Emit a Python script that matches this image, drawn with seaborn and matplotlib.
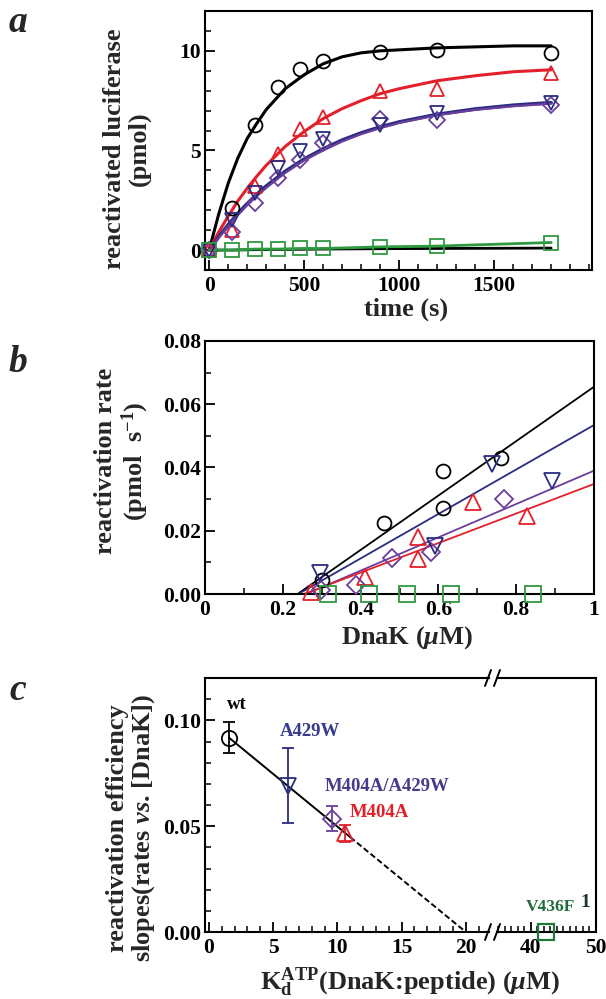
import numpy as np
import pandas as pd
import matplotlib
matplotlib.use("Agg")
import matplotlib.pyplot as plt
import seaborn as sns
from matplotlib.ticker import MultipleLocator, FixedLocator
from matplotlib.lines import Line2D

# ---------------- data: panel a ----------------
time_s = [0, 120, 240, 360, 480, 600, 900, 1200, 1800]
wt_a = [0.0, 2.1, 6.3, 8.2, 9.1, 9.5, 9.95, 10.05, 9.9]
m404a_a = [0.0, 1.0, 3.2, 4.8, 6.1, 6.7, 8.0, 8.1, 8.9]
a429w_a = [0.0, 1.5, 2.85, 4.1, 4.95, 5.6, 6.3, 6.9, 7.4]
dbl_a = [0.0, 0.9, 2.35, 3.6, 4.5, 5.35, 6.6, 6.55, 7.3]
v436f_a = [0.0, 0.0, 0.05, 0.05, 0.08, 0.08, 0.16, 0.2, 0.38]
control_a = [0.0, 0.0, 0.02, 0.03, 0.04, 0.05, 0.07, 0.08, 0.1]

curve_t = [0, 50, 100, 150, 200, 250, 300, 400, 500, 600, 700, 800, 900, 1000, 1200, 1400, 1600, 1800]
wt_fit = [0, 1.8, 3.35, 4.6, 5.6, 6.35, 7.05, 8.1, 8.8, 9.35, 9.7, 9.9, 10.0, 10.05, 10.15, 10.2, 10.25, 10.25]
m404a_fit = [0, 0.9, 1.7, 2.45, 3.1, 3.7, 4.25, 5.2, 5.95, 6.6, 7.1, 7.5, 7.85, 8.1, 8.5, 8.75, 8.95, 9.05]
a429w_fit = [0, 0.66, 1.27, 1.82, 2.33, 2.79, 3.21, 3.95, 4.57, 5.08, 5.52, 5.88, 6.18, 6.43, 6.81, 7.08, 7.27, 7.40]
dbl_fit = [0, 0.62, 1.2, 1.75, 2.25, 2.7, 3.12, 3.87, 4.5, 5.0, 5.45, 5.82, 6.12, 6.38, 6.77, 7.04, 7.22, 7.35]

# ---------------- data: panel b ----------------
wt_b_x = [0.30, 0.46, 0.611, 0.611, 0.76]
wt_b_y = [0.0044, 0.0224, 0.039, 0.0271, 0.0429]
a429w_b_x = [0.295, 0.592, 0.738, 0.891]
a429w_b_y = [0.0067, 0.0152, 0.0411, 0.0358]
dbl_b_x = [0.299, 0.389, 0.48, 0.58, 0.768]
dbl_b_y = [0.0013, 0.0029, 0.0113, 0.0134, 0.030]
m404a_b_x = [0.273, 0.411, 0.547, 0.547, 0.689, 0.829]
m404a_b_y = [0.0005, 0.0055, 0.0181, 0.0111, 0.0292, 0.0247]
v436f_b_x = [0.316, 0.421, 0.52, 0.632, 0.842]
v436f_b_y = [0.0, 0.0, 0.0, 0.0, 0.0]
# linear fits: x-intercept and slope
b_fit_names = ["wt", "A429W", "M404A/A429W", "M404A"]
b_fit_x0 = [0.238, 0.240, 0.260, 0.255]
b_fit_slope = [0.0860, 0.0703, 0.0527, 0.0467]

# ---------------- data: panel c ----------------
c_names = ["wt", "A429W", "M404A/A429W", "M404A"]
c_kd = [1.56, 6.13, 9.56, 10.6]
c_eff = [0.0918, 0.0692, 0.0536, 0.0466]
c_err = [0.0074, 0.0175, 0.0061, 0.0041]
v436f_kd = [42.3]
v436f_eff = [0.0]
c_fit_x0 = 20.0
c_fit_slope = -0.00498
c_solid_end = 11.0

# ---------------- style ----------------
sns.set_theme(style="ticks")
plt.rcParams.update({
    "font.family": ["Liberation Serif", "DejaVu Serif"],
    "font.weight": "bold",
    "axes.labelweight": "bold",
    "mathtext.fontset": "custom",
    "mathtext.rm": "Liberation Serif:bold",
    "mathtext.it": "Liberation Serif:italic:bold",
    "mathtext.bf": "Liberation Serif:bold",
    "xtick.direction": "in",
    "ytick.direction": "in",
    "xtick.major.size": 7, "ytick.major.size": 7,
    "xtick.minor.size": 4, "ytick.minor.size": 4,
    "xtick.major.width": 1.3, "ytick.major.width": 1.3,
    "xtick.minor.width": 1.1, "ytick.minor.width": 1.1,
    "xtick.major.pad": 4, "ytick.major.pad": 3,
    "xtick.color": "black", "ytick.color": "black",
    "axes.edgecolor": "black", "axes.linewidth": 1.5,
    "xtick.labelsize": 15.5, "ytick.labelsize": 15.5,
    "axes.labelsize": 19,
})

BLACK = "#000000"
RED = "#e3202a"
NAVY = "#2a2c80"
PURPLE = "#6a3f9c"
GREEN = "#2e9a40"
GREEN_T = "#1f6b3a"

W, H = 606, 999
fig = plt.figure(figsize=(W / 100, H / 100), dpi=100)


def box(l, t, r, b):
    return [l / W, 1 - b / H, (r - l) / W, (b - t) / H]


def markers(ax, x, y, m, c, ms=10, mew=1.3, z=3):
    sns.lineplot(x=x, y=y, ax=ax, estimator=None, sort=False, marker=m,
                 linestyle="", markersize=ms, markerfacecolor="none",
                 markeredgecolor=c, markeredgewidth=mew, color=c, zorder=z,
                 clip_on=False)


def curve(ax, x, y, c, lw=2.2, z=2, ls="-"):
    sns.lineplot(x=x, y=y, ax=ax, estimator=None, sort=False, color=c,
                 linewidth=lw, zorder=z, linestyle=ls)


# ================= panel a =================
axa = fig.add_axes(box(205, 11, 592, 270))
curve(axa, time_s, control_a, BLACK, lw=2.0, z=1)
curve(axa, curve_t, wt_fit, BLACK)
curve(axa, curve_t, m404a_fit, RED)
curve(axa, curve_t, a429w_fit, NAVY, lw=2.6)
curve(axa, curve_t, dbl_fit, PURPLE, lw=1.6)
curve(axa, time_s, v436f_a, GREEN, lw=2.0)
markers(axa, time_s, wt_a, "o", BLACK)
markers(axa, time_s, m404a_a, "^", RED)
markers(axa, time_s, dbl_a, "D", PURPLE, ms=8)
markers(axa, time_s, a429w_a, "v", NAVY)
markers(axa, time_s, v436f_a, "s", GREEN, ms=10, z=4)
axa.set_xlim(-22, 2015)
axa.set_ylim(-1, 12)
axa.xaxis.set_major_locator(FixedLocator([0, 500, 1000, 1500]))
axa.xaxis.set_minor_locator(MultipleLocator(100))
axa.yaxis.set_major_locator(FixedLocator([0, 5, 10]))
axa.yaxis.set_minor_locator(MultipleLocator(1))
axa.set_xlabel("time (s)")
axa.set_ylabel("reactivated luciferase\n(pmol)", linespacing=1.1)
axa.yaxis.set_label_coords(-0.14, 0.47)
axa.xaxis.set_label_coords(0.52, -0.108)

# ================= panel b =================
axb = fig.add_axes(box(205, 341, 594, 594))
for x0, k, c in zip(b_fit_x0, b_fit_slope, [BLACK, NAVY, PURPLE, RED]):
    xs = [x0, 1.0]
    ys = [k * (xv - x0) for xv in xs]
    curve(axb, xs, ys, c, lw=1.3)
curve(axb, v436f_b_x, v436f_b_y, GREEN, lw=1.3)
markers(axb, wt_b_x, wt_b_y, "o", BLACK, ms=10)
markers(axb, m404a_b_x, m404a_b_y, "^", RED, ms=11)
markers(axb, dbl_b_x, dbl_b_y, "D", PURPLE, ms=9)
markers(axb, a429w_b_x, a429w_b_y, "v", NAVY, ms=11)
markers(axb, v436f_b_x, v436f_b_y, "s", GREEN, ms=11, z=4)
axb.set_xlim(0, 1)
axb.set_ylim(0, 0.08)
axb.xaxis.set_major_locator(FixedLocator([0, 0.2, 0.4, 0.6, 0.8, 1.0]))
axb.set_xticklabels(["0", "0.2", "0.4", "0.6", "0.8", "1"])
axb.xaxis.set_minor_locator(MultipleLocator(0.1))
axb.yaxis.set_major_locator(FixedLocator([0, 0.02, 0.04, 0.06, 0.08]))
axb.set_yticklabels(["0.00", "0.02", "0.04", "0.06", "0.08"])
axb.yaxis.set_minor_locator(MultipleLocator(0.01))
axb.set_xlabel(r"DnaK ($\mu$M)")
axb.set_ylabel("reactivation rate\n(pmol  s$^{-1}$)", linespacing=1.1)
axb.yaxis.set_label_coords(-0.14, 0.525)
axb.xaxis.set_label_coords(0.52, -0.12)

# ================= panel c =================
axc1 = fig.add_axes(box(205, 678, 489, 932))
axc2 = fig.add_axes(box(497, 678, 596, 932))
cols_c = [BLACK, NAVY, PURPLE, RED]
marks_c = ["o", "v", "D", "^"]
ms_c = [11, 12, 9, 11]
# fit line
xs_solid = [c_kd[0], c_solid_end]
curve(axc1, xs_solid, [c_fit_slope * (xv - c_fit_x0) for xv in xs_solid], BLACK, lw=1.4)
xs_dash = [c_solid_end, c_fit_x0]
sns.lineplot(x=xs_dash, y=[c_fit_slope * (xv - c_fit_x0) for xv in xs_dash], ax=axc1,
             estimator=None, sort=False, color=BLACK, linewidth=1.4, dashes=False,
             linestyle=(0, (3, 1.5)), zorder=2)
for i in range(4):
    axc1.errorbar(c_kd[i], c_eff[i], yerr=c_err[i], fmt="none", ecolor=cols_c[i],
                  elinewidth=1.3, capsize=4, capthick=1.3, zorder=3)
    markers(axc1, [c_kd[i]], [c_eff[i]], marks_c[i], cols_c[i], ms=ms_c[i], z=4)
markers(axc2, v436f_kd, v436f_eff, "s", "#1f7a3a", ms=12, mew=1.6, z=5)

axc1.set_xlim(-0.3, 21.8)
axc2.set_xlim(34.8, 50)
for ax in (axc1, axc2):
    ax.set_ylim(0, 0.12)
    ax.xaxis.set_minor_locator(MultipleLocator(1))
axc1.yaxis.set_major_locator(FixedLocator([0, 0.05, 0.10]))
axc1.set_yticklabels(["0.00", "0.05", "0.10"])
axc1.yaxis.set_minor_locator(MultipleLocator(0.01))
axc1.xaxis.set_major_locator(FixedLocator([0, 5, 10, 15, 20]))
axc2.xaxis.set_major_locator(FixedLocator([40, 50]))
axc2.yaxis.set_visible(False)
axc1.spines["right"].set_visible(False)
axc2.spines["left"].set_visible(False)
axc2.tick_params(axis="y", which="both", left=False, labelleft=False)

# labels in panel c
axc1.text(2.2, 0.1076, "wt", color=BLACK, fontsize=13.5, ha="center", va="center")
axc1.text(7.9, 0.0949, "A429W", color="#353a8c", fontsize=13.5, ha="center", va="center")
axc1.text(13.85, 0.0689, "M404A/A429W", color="#4a3a8c", fontsize=13.5, ha="center", va="center")
axc1.text(13.3, 0.0563, "M404A", color=RED, fontsize=13.5, ha="center", va="center")
axc2.text(43.0, 0.0118, "V436F", color=GREEN_T, fontsize=12.5, ha="center", va="center", clip_on=False)
axc2.text(48.3, 0.0138, "1", color="#1a3a2a", fontsize=14, ha="center", va="center", clip_on=False)

axc1.set_ylabel("reactivation efficiency\nslopes(rates $vs$. [DnaK])", linespacing=1.05)
axc1.yaxis.set_label_coords(-0.17, 0.41)
fig.text(410 / W, 1 - 982 / H, r"$\mathrm{K}_{\mathrm{d}}^{\mathrm{ATP}}$(DnaK:peptide) ($\mu$M)",
         fontsize=19, ha="center", va="center")

# break marks
for yb in (678, 932):
    for xb in (488, 497):
        fig.add_artist(Line2D([(xb - 3) / W, (xb + 3) / W], [1 - (yb + 8) / H, 1 - (yb - 8) / H],
                              transform=fig.transFigure, color="black", lw=1.4))

# panel letters
for lab, yy in (("a", 22), ("b", 362), ("c", 690)):
    fig.text(18 / W, 1 - yy / H, lab, fontsize=27, style="italic", fontweight="bold",
             ha="center", va="center")

fig.savefig("out.png", dpi=100)
